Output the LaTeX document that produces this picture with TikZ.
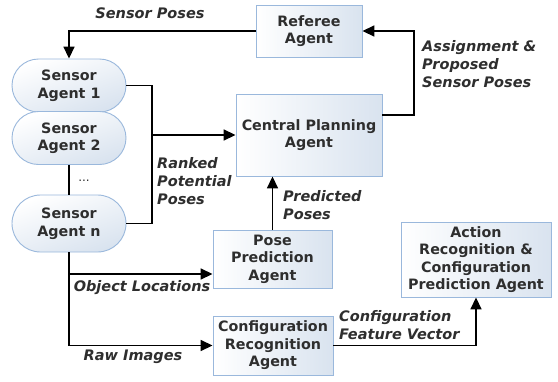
\documentclass[tikz,border=0pt]{standalone}
\usepackage{fontspec}
\setmainfont{DejaVu Sans}
\usetikzlibrary{arrows.meta,shapes.misc}
\definecolor{boxline}{HTML}{9AB8DC}
\definecolor{boxfill}{HTML}{D9E3EF}
\definecolor{txt}{HTML}{2E2E2E}
\tikzset{
  agentbox/.style={draw=boxline, line width=0.9pt, left color=white, right color=boxfill,
    align=center, font=\fontsize{14.3}{17.5}\selectfont\bfseries, text=txt, inner sep=0pt},
  sensorbox/.style={agentbox, rounded rectangle, top color=white, bottom color=boxfill,
    shading angle=20},
  link/.style={draw=black, line width=1.7pt},
  arr/.style={link, -{Triangle[length=12pt,width=11pt]}},
  lbl/.style={font=\fontsize{14.5}{18}\selectfont\bfseries\itshape, text=txt, inner sep=0pt}
}
\begin{document}
\begin{tikzpicture}[x=1pt,y=-1pt]
\useasboundingbox (0,0) rectangle (558,381);
\fill[white] (0,0) rectangle (558,381);

% agents
\node[agentbox, minimum width=106pt, minimum height=52pt] (referee) at (309,31) {Referee\\Agent};
\node[sensorbox, minimum width=114pt, minimum height=53pt] (s1) at (69,85.5) {Sensor\\Agent 1};
\node[sensorbox, minimum width=114pt, minimum height=53pt] (s2) at (69,138) {Sensor\\Agent 2};
\node[sensorbox, minimum width=114pt, minimum height=57pt] (sn) at (69,223.5) {Sensor\\Agent n};
\node[agentbox, minimum width=146pt, minimum height=82pt] (central) at (309,135) {Central Planning\\Agent};
\node[agentbox, minimum width=119pt, minimum height=58pt] (pose) at (272.5,259) {Pose\\Prediction\\Agent};
\node[agentbox, minimum width=120pt, minimum height=59pt] (config) at (273,345.5) {Configuration\\Recognition\\Agent};
\node[agentbox, minimum width=150pt, minimum height=75pt] (action) at (476,259.5) {Action\\Recognition \&\\Configuration\\Prediction Agent};

% routing points
\coordinate (rk) at (152,135);
\coordinate (asg) at (414,115);
\coordinate (obj) at (69,274);

% connectors
\draw[arr] (referee.west) -| (s1.north);
\draw[link] (s1.east) -| (rk) |- (sn.east);
\draw[arr] (rk) -- (central.west);
\draw[link] (s2.south) -- (sn.north);
\draw[arr] (central.east |- asg) -- (asg) |- (referee.east);
\draw[arr] (pose.north) -- (pose.north |- central.south);
\draw[arr] (sn.south) -- (obj) -- (obj -| pose.west);
\draw[arr] (obj) |- (config.west);
\draw[arr] (config.east) -| (action.south);

% labels
\node[lbl] (lsp) at (150,13) {Sensor Poses};
\node[lbl, align=left, anchor=west] (lasg) at (422,64) {Assignment \&\\Proposed\\Sensor Poses};
\node[lbl, align=left, anchor=west] (lrk) at (157,181) {Ranked\\Potential\\Poses};
\node[lbl, align=left, anchor=west] (lpp) at (283,205) {Predicted\\Poses};
\node[lbl] (lobj) at (142,288) {Object Locations};
\node[lbl] (lraw) at (133,357) {Raw Images};
\node[lbl, align=left, anchor=west] (lcfv) at (339,325) {Configuration\\Feature Vector};
\node[text=txt, font=\fontsize{12}{12}\selectfont] (dots) at (84,181) {...};
\end{tikzpicture}
\end{document}
